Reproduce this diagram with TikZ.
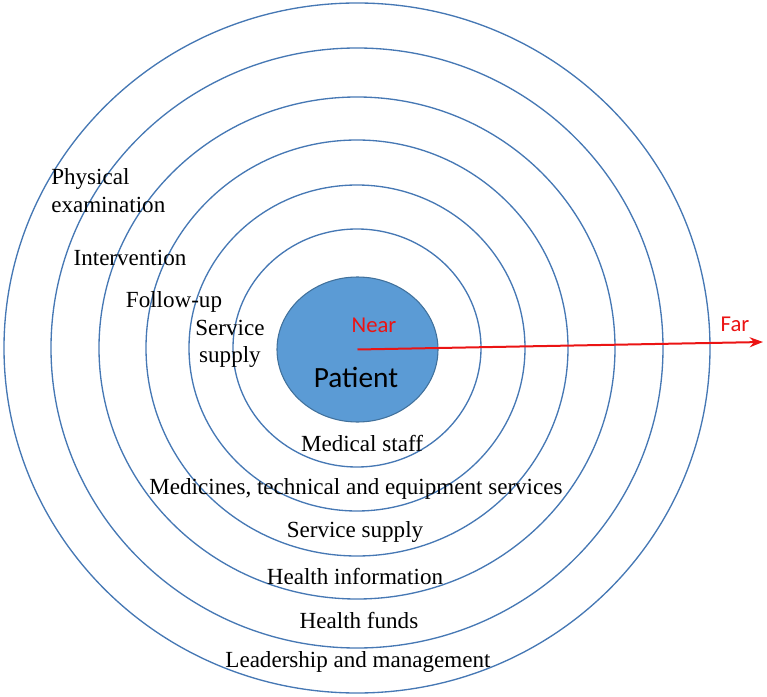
\documentclass[tikz,border=0pt]{standalone}
\usepackage{fontspec}
\setmainfont{Liberation Serif}
\newfontfamily\calfont{Carlito}
\usetikzlibrary{arrows.meta,shapes.geometric,positioning}
\definecolor{ringcol}{RGB}{70,120,180}
\definecolor{corecol}{RGB}{91,155,213}
\definecolor{coreline}{RGB}{65,113,156}
\definecolor{farcol}{RGB}{235,20,20}

\begin{document}
\begin{tikzpicture}[x=0.75pt,y=0.75pt,
    every node/.style={font=\fontsize{17.3}{20}\selectfont},
    lbl/.style={inner sep=0pt,align=center},
    dist/.style={inner sep=0pt,text=farcol,font=\calfont\fontsize{17}{20}\selectfont}]
  \useasboundingbox (-357,-348) rectangle (410,348);
  % layers round the patient
  \foreach \rx/\ry in {124/119,168/163,211/208,258/251,306/300,353/345}
    \draw[ringcol,line width=1pt] (0,0) ellipse [x radius=\rx, y radius=\ry];
  \node[ellipse,draw=coreline,fill=corecol,line width=0.8pt,
        minimum width=120.75pt,minimum height=108.75pt] (core) at (0.5,-1.5) {};
  \node[inner sep=0pt,font=\calfont\fontsize{22}{26}\selectfont] (patient) at (-1,-29) {Patient};
  % near -> far
  \node[dist] (near) at (17,23) {Near};
  \node[dist] (far) at (378,24) {Far};
  \coordinate (tip) at (406,6);
  \draw[-{Stealth[length=10pt,width=7.5pt]},farcol,line width=1.5pt] (core.center) -- (tip);
  % left labels
  \node[lbl,anchor=west,align=left,font=\fontsize{17.3}{21}\selectfont] (phys) at (-306,157) {Physical\\examination};
  \node[lbl] (interv) at (-227,90) {Intervention};
  \node[lbl] (follow) at (-183,46) {Follow-up};
  \node[lbl,font=\fontsize{17.3}{20.5}\selectfont] (supplyA) at (-127,4) {Service\\supply};
  % bottom labels
  \node[lbl] (staff) at (5,-95) {Medical staff};
  \node[lbl] (medic) at (-1,-141) {Medicines, technical and equipment services};
  \node[lbl] (supplyB) at (-2,-184) {Service supply};
  \node[lbl] (info) at (-2,-228) {Health information};
  \node[lbl] (funds) at (2,-272) {Health funds};
  \node[lbl] (lead) at (1,-314) {Leadership and management};
\end{tikzpicture}
\end{document}
